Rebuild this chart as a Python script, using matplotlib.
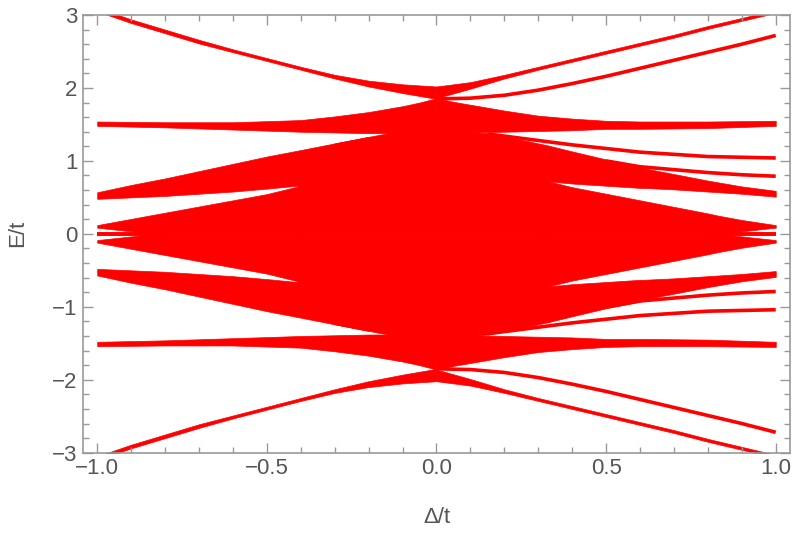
import numpy as np
import matplotlib.pyplot as plt
from matplotlib.ticker import MultipleLocator

# Spectrum E/t vs Delta/t.
# Only the upper half (E >= 0) is listed; the spectrum is symmetric E -> -E.
# Bands are given as (delta, lower, upper) edges, thin levels as (delta, E).

# top band, left branch (runs out of the frame near delta = -0.95)
a_left_d = [-1.0, -0.9, -0.8, -0.7, -0.6, -0.5, -0.4, -0.3, -0.2, -0.1, 0.0]
a_left_lo = [3.05, 2.89, 2.75, 2.61, 2.49, 2.37, 2.25, 2.13, 2.02, 1.93, 1.85]
a_left_up = [3.10, 2.94, 2.80, 2.66, 2.53, 2.41, 2.29, 2.18, 2.10, 2.05, 2.02]

# top band, right branch
a_right_d = [0.0, 0.1, 0.2, 0.3, 0.4, 0.5, 0.6, 0.7, 0.8, 0.9, 1.0]
a_right_lo = [1.86, 1.99, 2.13, 2.25, 2.36, 2.47, 2.58, 2.69, 2.81, 2.92, 3.03]
a_right_up = [2.02, 2.08, 2.18, 2.29, 2.40, 2.51, 2.62, 2.73, 2.85, 2.96, 3.07]

# band around 1.5
b_left_d = [-1.0, -0.8, -0.6, -0.4, -0.3, -0.2, -0.1, -0.05, 0.0]
b_left_lo = [1.48, 1.46, 1.43, 1.40, 1.39, 1.38, 1.38, 1.38, 1.38]
b_left_up = [1.54, 1.53, 1.53, 1.56, 1.61, 1.67, 1.75, 1.80, 1.86]

b_right_d = [0.0, 0.05, 0.1, 0.2, 0.3, 0.4, 0.5, 0.6, 0.8, 1.0]
b_right_lo = [1.38, 1.38, 1.39, 1.40, 1.41, 1.42, 1.44, 1.44, 1.45, 1.48]
b_right_up = [1.86, 1.81, 1.77, 1.69, 1.62, 1.58, 1.55, 1.54, 1.54, 1.55]

# band starting at 0.5 on the left
d_band_d = [-1.0, -0.9, -0.8, -0.7, -0.6, -0.5, -0.41, -0.3, -0.2]
d_band_lo = [0.48, 0.50, 0.52, 0.55, 0.58, 0.62, 0.66, 0.70, 0.75]
d_band_up = [0.57, 0.67, 0.76, 0.86, 0.96, 1.06, 1.14, 1.24, 1.33]

# band starting at 0.1 on the left (joins the core)
e_band_d = [-1.0, -0.9, -0.83, -0.8, -0.7, -0.6, -0.5, -0.4]
e_band_lo = [0.085, 0.035, 0.0, 0.0, 0.0, 0.0, 0.0, 0.0]
e_band_up = [0.12, 0.205, 0.265, 0.29, 0.375, 0.46, 0.545, 0.66]

# central core
core_d = [-0.41, -0.3, -0.2, -0.12, 0.0, 0.1, 0.15, 0.2, 0.3, 0.33]
core_lo = [0.0, 0.0, 0.0, 0.0, 0.0, 0.0, 0.0, 0.0, 0.0, 0.0]
core_up = [1.0, 1.24, 1.33, 1.40, 1.40, 1.40, 1.38, 1.34, 1.24, 1.21]

# band ending at 0.55 on the right
h_band_d = [0.33, 0.4, 0.5, 0.6, 0.61, 0.7, 0.8, 0.9, 1.0]
h_band_lo = [0.72, 0.69, 0.66, 0.63, 0.63, 0.61, 0.58, 0.55, 0.51]
h_band_up = [1.21, 1.13, 1.02, 0.93, 0.90, 0.82, 0.73, 0.65, 0.59]

# core on the right, fanning out to 0.1 at delta = 1
core_r_d = [0.3, 0.33, 0.4, 0.5, 0.6, 0.7, 0.8, 0.83, 0.9, 1.0]
core_r_lo = [0.0, 0.0, 0.0, 0.0, 0.0, 0.0, 0.0, 0.0, 0.035, 0.085]
core_r_up = [0.76, 0.72, 0.64, 0.55, 0.46, 0.37, 0.28, 0.25, 0.19, 0.12]

# single levels
lvl_272_d = [0.0, 0.1, 0.2, 0.3, 0.4, 0.5, 0.6, 0.7, 0.8, 0.9, 1.0]
lvl_272_e = [1.85, 1.86, 1.90, 1.97, 2.06, 2.16, 2.27, 2.38, 2.49, 2.60, 2.72]

lvl_104_d = [0.15, 0.2, 0.3, 0.4, 0.5, 0.6, 0.7, 0.8, 0.9, 1.0]
lvl_104_e = [1.37, 1.34, 1.28, 1.22, 1.17, 1.12, 1.09, 1.06, 1.05, 1.04]

lvl_079_d = [0.5, 0.6, 0.7, 0.8, 0.9, 1.0]
lvl_079_e = [1.0, 0.92, 0.88, 0.84, 0.81, 0.79]

zero_left_d = [-1.0, -0.8]
zero_right_d = [0.8, 1.0]

bands = [
    (a_left_d, a_left_lo, a_left_up),
    (a_right_d, a_right_lo, a_right_up),
    (b_left_d, b_left_lo, b_left_up),
    (b_right_d, b_right_lo, b_right_up),
    (d_band_d, d_band_lo, d_band_up),
    (e_band_d, e_band_lo, e_band_up),
    (core_d, core_lo, core_up),
    (h_band_d, h_band_lo, h_band_up),
    (core_r_d, core_r_lo, core_r_up),
]
levels = [
    (lvl_272_d, lvl_272_e),
    (lvl_104_d, lvl_104_e),
    (lvl_079_d, lvl_079_e),
    (zero_left_d, [0.0, 0.0]),
    (zero_right_d, [0.0, 0.0]),
]

RED = '#ff0000'
FRAME = '#999999'
LABEL = '#555555'

plt.rcParams['font.family'] = ['Liberation Sans', 'DejaVu Sans']

fig, ax = plt.subplots(figsize=(7.97, 5.36), dpi=100)
fig.subplots_adjust(left=0.1041, right=0.9912, top=0.972, bottom=0.1554)

for d, lo, up in bands:
    d, lo, up = np.array(d), np.array(lo), np.array(up)
    # upper half and its mirror image
    ax.fill_between(d, lo, up, color=RED, lw=0.5, edgecolor=RED)
    ax.fill_between(d, -up, -lo, color=RED, lw=0.5, edgecolor=RED)

for d, e in levels:
    e = np.array(e)
    ax.plot(d, e, color=RED, lw=2.6, solid_capstyle='butt')
    ax.plot(d, -e, color=RED, lw=2.6, solid_capstyle='butt')

ax.set_xlim(-1.042, 1.042)
ax.set_ylim(-3, 3)

ax.xaxis.set_minor_locator(MultipleLocator(0.1))
ax.yaxis.set_minor_locator(MultipleLocator(0.2))
ax.set_xticks([-1.0, -0.5, 0.0, 0.5, 1.0])
ax.set_xticklabels(['\u22121.0', '\u22120.5', '0.0', '0.5', '1.0'])
ax.set_yticks([-3, -2, -1, 0, 1, 2, 3])
ax.set_yticklabels(['\u22123', '\u22122', '\u22121', '0', '1', '2', '3'])

ax.tick_params(which='both', direction='in', top=True, right=True,
               color=FRAME, labelcolor=LABEL, labelsize=16, width=1)
ax.tick_params(which='major', length=7, pad=4)
ax.tick_params(which='minor', length=4)
for s in ax.spines.values():
    s.set_color(FRAME)
    s.set_linewidth(1.2)

ax.set_xlabel('\u0394/t', fontsize=16, color=LABEL, labelpad=20)
ax.set_ylabel('E/t', fontsize=16, color=LABEL, labelpad=17)

fig.savefig('out.png', dpi=100)
